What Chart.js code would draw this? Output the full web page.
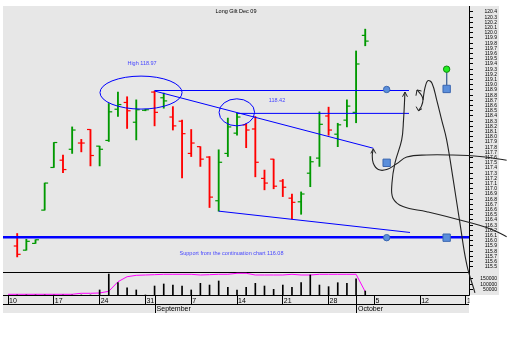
<!DOCTYPE html>
<html>
<head>
<meta charset="utf-8">
<title>LongGilt Dec 09</title>
<script src="https://cdn.jsdelivr.net/npm/chart.js@4.4.1/dist/chart.umd.min.js"></script>
<style>
  html, body { margin: 0; padding: 0; background: #fff; }
  canvas { display: block; }
</style>
</head>
<body>
<canvas id="grafico" width="510" height="337"></canvas>
<script>
/* ================================================================
   Long Gilt Dec 09 — daily bars, volume and open interest
================================================================ */

// ── DATA ──────────────────────────────────────────────────────────────────────
// one slot per weekday, slot 0 = Mon 10 Aug 2009
var days = ['Aug 11','Aug 12','Aug 13','Aug 14','Aug 17','Aug 18','Aug 19','Aug 20','Aug 21',
            'Aug 24','Aug 25','Aug 26','Aug 27','Aug 28','Aug 31','Sep 1','Sep 2','Sep 3','Sep 4',
            'Sep 7','Sep 8','Sep 9','Sep 10','Sep 11','Sep 14','Sep 15','Sep 16','Sep 17','Sep 18',
            'Sep 21','Sep 22','Sep 23','Sep 24','Sep 25','Sep 28','Sep 29','Sep 30','Oct 1','Oct 2'];

var opens  = [115.90,115.82,115.95,116.59,117.41,117.55,117.76,117.88,118.14,117.82,117.93,118.53,118.66,
              118.28,118.51,118.86,118.75,118.38,118.30,117.68,117.81,117.61,116.77,117.68,118.07,118.23,
              118.15,117.20,117.57,117.15,116.82,116.75,117.30,117.59,118.40,118.05,118.32,118.47,119.95];
var highs  = [116.14,116.03,116.02,117.11,117.89,117.65,118.19,117.95,118.14,117.82,118.64,118.86,118.77,
              118.71,118.53,118.88,118.84,118.58,118.32,118.14,117.81,117.62,117.75,118.36,118.45,118.25,
              118.39,117.36,117.57,117.18,116.90,116.94,117.62,118.48,118.57,118.26,118.71,119.65,120.07];
var lows   = [115.69,115.82,115.95,116.59,117.41,117.31,117.68,117.71,117.44,117.44,117.91,118.39,118.16,
              117.94,118.50,118.21,118.55,118.13,117.21,117.62,117.43,116.64,116.57,117.62,118.03,117.79,
              117.23,116.98,117.00,116.85,116.42,116.51,117.04,117.43,118.03,117.81,118.19,118.27,119.75];
var closes = [115.74,115.99,116.02,117.11,117.89,117.37,118.13,117.88,117.64,117.76,118.48,118.62,118.50,
              118.52,118.52,118.47,118.69,118.21,118.06,117.88,117.57,116.84,117.51,118.19,118.38,118.13,
              117.51,117.11,117.05,117.03,116.74,116.90,117.52,118.24,118.13,118.23,118.59,119.40,119.84];
// 1 = up day (green), 0 = down day (red)
var upDays = [0,1,1,1,1,0,1,0,0,1, 1,1,0,1,1,0,1,0,0,0, 0,0,1,1,1,0,0,0,0,0, 0,1,1,1,0,1,1,1,1];

var volume = [0,0,0,0,0,0,0,0,0,47000,196000,115000,68000,47000,0,84000,103000,93000,84000,47000,
              109000,93000,131000,72000,47000,72000,109000,84000,53000,93000,72000,115000,187000,
              93000,78000,115000,109000,150000,37000];
// open interest from slot 0
var openInterest = [6500,6500,6500,6500,6500,6500,6500,6500,16000,16000,18700,34600,124000,171000,
                    184000,187000,190000,193500,193500,193500,193500,187000,190000,193500,193500,
                    203000,203000,187000,187000,187000,187000,193500,187000,187000,193500,193500,
                    193500,193500,193500,31000];

var weekSlots  = [0, 5, 10, 15, 20, 25, 30, 35, 40, 45, 50];
var weekLabels = ['10','17','24','31','7','14','21','28','5','12','19'];
var monthSlots = [16, 38];
var monthNames = ['September', 'October'];

var priceTicks = [120.4,120.3,120.2,120.1,120.0,119.9,119.8,119.7,119.6,119.5,119.4,119.3,119.2,
                  119.1,119.0,118.9,118.8,118.7,118.6,118.5,118.4,118.3,118.2,118.1,118.0,117.9,
                  117.8,117.7,117.6,117.5,117.4,117.3,117.2,117.1,117.0,116.9,116.8,116.7,116.6,
                  116.5,116.4,116.3,116.2,116.1,116.0,115.9,115.8,115.7,115.6,115.5];
var volTicks = [50000, 100000, 150000];

// drawn-on annotations, [slot, price]
var highLine    = [[16, 118.89], [43.78, 118.89]];
var midLine     = [[25, 118.45], [43.78, 118.45]];
var upperTrend  = [[16, 118.88], [39.88, 117.78]];
var lowerTrend  = [[23, 116.57], [43.89, 116.16]];
var supportLine = [[-0.55, 116.07], [50.33, 116.07]];

var blueDots    = [[41.34, 118.91], [41.34, 116.06], [54.44, 118.92], [54.44, 116.07]];
var blueSquares = [[47.89, 118.92], [41.34, 117.50], [54.44, 117.50], [47.89, 116.06]];
var greenDot    = [[47.89, 119.30]];
var stem        = [[47.89, 119.24], [47.89, 118.99]];

var curveA  = [[43.34,118.86],[43.18,118.32],[42.98,117.94],[42.25,117.50],[41.92,117.11],[42.03,116.82],
               [43.12,116.66],[45.71,116.56],[49.34,116.40],[52.62,116.23],[54.44,116.08]];
var arrowA  = [[43.07,118.77],[43.34,118.86],[43.61,118.77]];
var curveB  = [[39.88,117.76],[39.77,117.65],[39.88,117.49],[40.43,117.37],[41.34,117.37],[42.43,117.48],
               [43.53,117.61],[45.71,117.65],[48.25,117.65],[51.53,117.62],[54.44,117.55]];
var arrowB  = [[39.61,117.68],[39.88,117.77],[40.15,117.68]];
var curveC  = [[45.31,118.71],[45.52,118.94],[45.85,119.08],[46.29,119.03],[46.80,118.71],[47.35,118.32],
               [47.89,117.94],[48.61,117.17],[49.34,116.34],[50.10,115.53],[50.98,115.00],[51.71,114.52],
               [52.62,114.24],[53.53,114.34],[54.26,114.55],[54.91,114.78]];
var bracket = [[44.65,118.90],[45.14,118.80],[45.31,118.71],[45.14,118.59],[44.81,118.50]];
var bracketTop    = [[44.54,118.79],[44.65,118.90],[45.14,118.88]];
var bracketBottom = [[44.56,118.58],[44.81,118.50],[45.20,118.54]];

var ellipseCentres = [[14.52, 118.85], [24.98, 118.47]];
var ellipseRadii   = [[4.48, 0.317], [1.94, 0.26]];

var notes = [['High 118.97', 14.63, 119.40],
             ['118.42', 29.37, 118.69],
             ['Support from the continuation chart 116.08', 24.40, 115.76]];
var chartTitle = ['Long Gilt Dec 09', 24.89, 120.40];

// ── STYLE ─────────────────────────────────────────────────────────────────────
var GREEN = '#009900', RED = '#ff0000', BLUE = '#0000ff', INK = '#222222';
var PANEL = '#e7e7e7', NOTE = '#4646ff';
var DOT_FILL = '#5b8fdb', DOT_EDGE = '#3a66b0';
var TICK_SHIFT = 0.19;
var X_MIN = -0.55, X_MAX = 50.33;
var Y_MIN = 115.40, Y_MAX = 120.515;
var VOL_MAX = 215000;
var FONT = '"Liberation Sans", Arial, sans-serif';

// ── HELPERS ───────────────────────────────────────────────────────────────────
function slotOf(i) { return i + 1; }
function toXY(pairs) { return pairs.map(function(p) { return { x: p[0], y: p[1] }; }); }

function lineSet(pairs, colour, width, tension, order) {
  return {
    type: 'line', data: toXY(pairs), borderColor: colour, borderWidth: width,
    pointRadius: 0, tension: tension || 0, fill: false, clip: false, order: order
  };
}

function markerSet(pairs, style, radius, fill, edge) {
  return {
    type: 'scatter', data: toXY(pairs), pointStyle: style, pointRadius: radius,
    pointBackgroundColor: fill, pointBorderColor: edge, pointBorderWidth: 1,
    clip: false, order: 1
  };
}

var barColours = upDays.map(function(u) { return u ? GREEN : RED; });

// ── PLUGIN: panel, rows, ellipses, notes ─────────────────────────────────────
var sketch = {
  id: 'sketch',
  beforeDraw: function(chart) {
    var c = chart.ctx, a = chart.chartArea, sx = chart.scales.x, sy = chart.scales.y;
    c.save();
    c.fillStyle = PANEL;
    c.fillRect(a.left, a.top, sy.right + 2 - a.left, a.bottom - a.top);
    c.fillRect(a.left, a.bottom, a.right - a.left, sx.bottom - a.bottom);
    c.restore();
  },
  beforeDatasetsDraw: function(chart) {
    var c = chart.ctx, a = chart.chartArea, sx = chart.scales.x, sv = chart.scales.yVol;
    c.save();
    // the last week label is cut at the axis
    c.fillStyle = '#ffffff';
    c.fillRect(a.right + 0.5, sx.top + 0.5, 14, sx.bottom - sx.top);
    c.strokeStyle = '#000'; c.lineWidth = 1;
    c.beginPath();
    var volTop = Math.round(sv.top) + 0.5;
    c.moveTo(a.left, volTop); c.lineTo(a.right, volTop);
    var rowY = Math.round(sx.top + 9) + 0.5;
    c.moveTo(a.left, rowY); c.lineTo(a.right, rowY);
    monthSlots.forEach(function(m) {
      var px = Math.round(sx.getPixelForValue(m)) + 0.5;
      c.moveTo(px, sx.top); c.lineTo(px, sx.bottom);
    });
    c.stroke();
    c.fillStyle = '#000'; c.font = '7px ' + FONT;
    c.textAlign = 'left'; c.textBaseline = 'middle';
    monthNames.forEach(function(n, i) {
      c.fillText(n, sx.getPixelForValue(monthSlots[i]) + 2, (rowY + sx.bottom) / 2 + 0.5);
    });
    c.restore();
  },
  afterDatasetsDraw: function(chart) {
    var c = chart.ctx, sx = chart.scales.x, sy = chart.scales.y;
    c.save();
    c.strokeStyle = BLUE; c.lineWidth = 1;
    ellipseCentres.forEach(function(e, i) {
      var cx = sx.getPixelForValue(e[0]), cy = sy.getPixelForValue(e[1]);
      var rx = sx.getPixelForValue(e[0] + ellipseRadii[i][0]) - cx;
      var ry = cy - sy.getPixelForValue(e[1] + ellipseRadii[i][1]);
      c.beginPath(); c.ellipse(cx, cy, rx, ry, 0, 0, Math.PI * 2); c.stroke();
    });
    c.font = '5.5px ' + FONT; c.textAlign = 'center'; c.textBaseline = 'middle';
    c.fillStyle = NOTE;
    notes.forEach(function(n) {
      c.fillText(n[0], sx.getPixelForValue(n[1]), sy.getPixelForValue(n[2]));
    });
    c.fillStyle = '#000';
    c.fillText(chartTitle[0], sx.getPixelForValue(chartTitle[1]), sy.getPixelForValue(chartTitle[2]));
    c.restore();
  }
};

// ── CHART ─────────────────────────────────────────────────────────────────────
var datasets = [
  lineSet(curveC, INK, 1.1, 0.4, 0),
  lineSet(curveA, INK, 1.1, 0.4, 0),
  lineSet(curveB, INK, 1.1, 0.4, 0),
  lineSet(bracket, INK, 1.1, 0.4, 0),
  lineSet(arrowA, INK, 1, 0, 0),
  lineSet(arrowB, INK, 1, 0, 0),
  lineSet(bracketTop, INK, 1, 0, 0),
  lineSet(bracketBottom, INK, 1, 0, 0),
  markerSet(blueDots, 'circle', 3.2, DOT_FILL, DOT_EDGE),
  markerSet(blueSquares, 'rect', 5.2, DOT_FILL, DOT_EDGE),
  markerSet(greenDot, 'circle', 3.2, '#22ee22', '#118811'),
  lineSet(stem, '#4a6a9a', 1, 0, 1),
  lineSet(highLine, BLUE, 1, 0, 2),
  lineSet(midLine, BLUE, 1, 0, 2),
  lineSet(upperTrend, BLUE, 1, 0, 2),
  lineSet(lowerTrend, BLUE, 1, 0, 2),
  lineSet(supportLine, BLUE, 2.5, 0, 2),
  {
    type: 'scatter', order: 3, pointStyle: 'line', pointRadius: 1.7, pointBorderWidth: 1.2,
    pointBorderColor: barColours,
    data: days.map(function(d, i) { return { x: slotOf(i) - TICK_SHIFT, y: opens[i] }; })
  },
  {
    type: 'scatter', order: 3, pointStyle: 'line', pointRadius: 1.7, pointBorderWidth: 1.2,
    pointBorderColor: barColours,
    data: days.map(function(d, i) { return { x: slotOf(i) + TICK_SHIFT, y: closes[i] }; })
  },
  {
    type: 'bar', order: 4, grouped: false, barThickness: 1.2, borderWidth: 0,
    backgroundColor: barColours,
    data: days.map(function(d, i) { return { x: slotOf(i), y: [lows[i], highs[i]] }; })
  },
  {
    type: 'bar', order: 5, grouped: false, barThickness: 1, borderWidth: 0,
    backgroundColor: '#000', yAxisID: 'yVol',
    data: days.map(function(d, i) { return { x: slotOf(i), y: volume[i] }; })
  },
  {
    type: 'line', order: 6, yAxisID: 'yVol', borderColor: '#ff00ff', borderWidth: 1,
    pointRadius: 0, tension: 0, fill: false,
    data: openInterest.map(function(v, i) { return { x: i, y: v }; })
  }
];

function rightAxis(extra) {
  var base = {
    type: 'linear', position: 'right', stack: 'panels',
    grid: { drawOnChartArea: false, drawTicks: true, tickLength: 4, color: '#000' },
    border: { display: true, color: '#000' },
    afterFit: function(s) { s.width = 28; s.paddingTop = 0; s.paddingBottom = 0; }
  };
  return Object.assign(base, extra);
}

new Chart(document.getElementById('grafico'), {
  type: 'bar',
  data: { datasets: datasets },
  plugins: [sketch],
  options: {
    responsive: false,
    animation: false,
    events: [],
    layout: { autoPadding: false, padding: { left: 3, top: 6, right: 13, bottom: 24 } },
    plugins: { legend: { display: false }, tooltip: { enabled: false } },
    scales: {
      x: {
        type: 'linear', min: X_MIN, max: X_MAX, offset: false, position: 'bottom',
        grid: { offset: false, drawOnChartArea: false, drawTicks: true, tickLength: 9, color: '#000' },
        border: { display: true, color: '#000' },
        afterBuildTicks: function(s) { s.ticks = weekSlots.map(function(v) { return { value: v }; }); },
        afterFit: function(s) { s.height = 18; s.paddingLeft = 0; s.paddingRight = 0; },
        ticks: {
          autoSkip: false, maxRotation: 0, minRotation: 0, align: 'start', padding: -7, labelOffset: 1,
          color: '#000', font: { family: FONT, size: 7 },
          callback: function(v) { return weekLabels[weekSlots.indexOf(v)]; }
        }
      },
      y: rightAxis({
        stackWeight: 266, min: Y_MIN, max: Y_MAX,
        afterBuildTicks: function(s) { s.ticks = priceTicks.map(function(v) { return { value: v }; }); },
        ticks: {
          autoSkip: false, crossAlign: 'far', padding: 11.5, color: '#000',
          font: { family: FONT, size: 5 },
          callback: function(v) { return Number(v).toFixed(1); }
        }
      }),
      yVol: rightAxis({
        stackWeight: 23, min: 0, max: VOL_MAX,
        afterBuildTicks: function(s) { s.ticks = volTicks.map(function(v) { return { value: v }; }); },
        ticks: {
          autoSkip: false, crossAlign: 'far', padding: 7.3, color: '#000',
          font: { family: FONT, size: 5 },
          callback: function(v) { return String(v); }
        }
      })
    }
  }
});
</script>
</body>
</html>
